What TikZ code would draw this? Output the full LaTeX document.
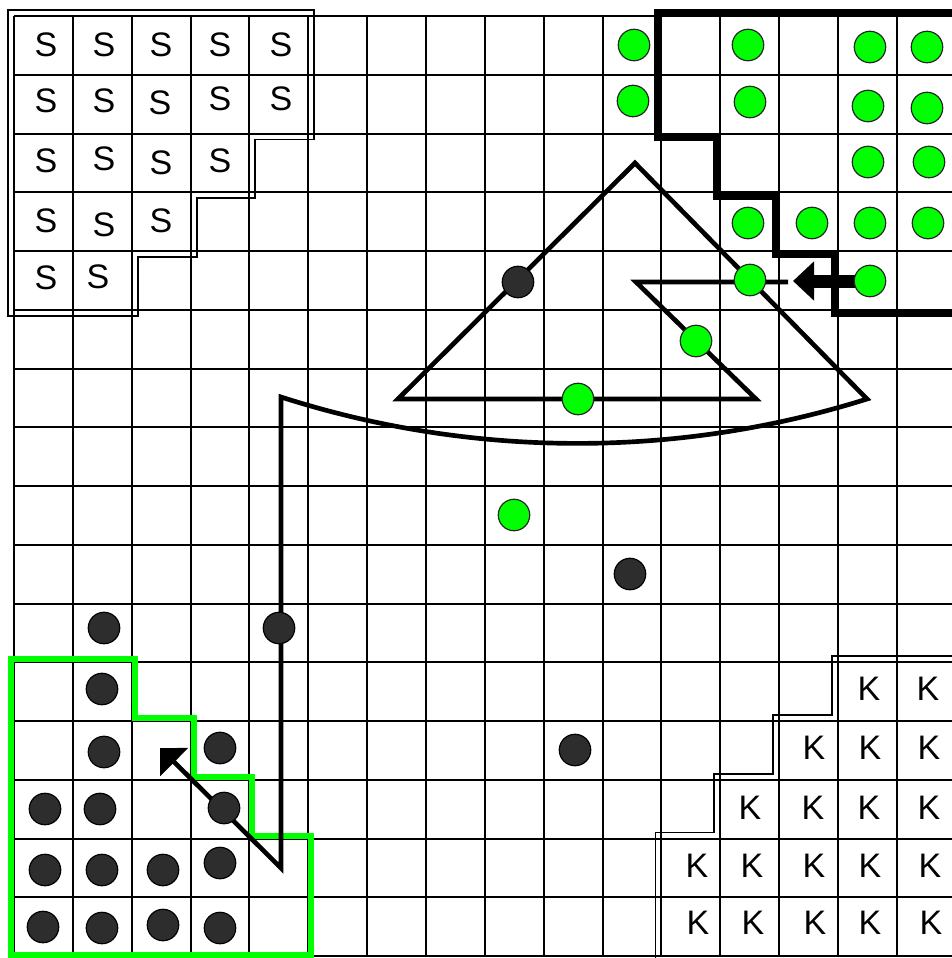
\documentclass[tikz,border=0pt]{standalone}
\usepackage{fontspec}
\setmainfont{Liberation Sans}
\usetikzlibrary{arrows.meta}
\definecolor{dotgreen}{RGB}{0,255,0}
\definecolor{dotdark}{RGB}{45,45,45}
\begin{document}
\begin{tikzpicture}[x=0.75pt,y=-0.75pt,
  gridline/.style={line width=1.5pt, black},
  thinoutline/.style={line width=1.4pt, black, line join=miter},
  boldoutline/.style={line width=5.5pt, black, line join=miter},
  greenoutline/.style={line width=4.5pt, dotgreen, line join=miter},
  route/.style={line width=3.5pt, black, line join=miter},
  bigshaft/.style={line width=9.75pt, black},
  gdot/.style={circle, fill=dotgreen, draw=black!85, line width=0.9pt, minimum size=23.6pt, inner sep=0pt},
  ddot/.style={circle, fill=dotdark, draw=black, line width=0.9pt, minimum size=23.6pt, inner sep=0pt},
  letter/.style={inner sep=0pt, font=\fontsize{25.5}{30}\selectfont}]
\useasboundingbox (0,0) rectangle (951,958);
\fill[white] (0,0) rectangle (951,958);
% grid
\foreach \k in {0,...,16} {
  \draw[gridline] ({14+58.86*\k},16) -- ({14+58.86*\k},956);
  \draw[gridline] (14,{16+58.75*\k}) -- (955.76,{16+58.75*\k});
}
% S region outline
\draw[thinoutline] (8,10) -- (314.3,10) -- (314.3,139.5) -- (255.4,139.5) -- (255.4,198.25) -- (196.6,198.25) -- (196.6,257) -- (137.7,257) -- (137.7,315.75) -- (8,315.75) -- cycle;
% K region outline
\draw[thinoutline] (960,656.25) -- (832,656.25) -- (832,715) -- (773.2,715) -- (773.2,773.75) -- (714.3,773.75) -- (714.3,832.5) -- (655.5,832.5) -- (655.5,962);
% green region outline
\draw[greenoutline] (11,659.25) -- (134.7,659.25) -- (134.7,718) -- (193.6,718) -- (193.6,776.75) -- (252.4,776.75) -- (252.4,835.5) -- (311.3,835.5) -- (311.3,955) -- (11,955) -- cycle;
% bold region outline
\draw[boldoutline] (960,12.3) -- (657.8,12.3) -- (657.8,137.2) -- (716.6,137.2) -- (716.6,195.95) -- (775.5,195.95) -- (775.5,254.7) -- (834.3,254.7) -- (834.3,313.45) -- (960,313.45);
% route
\coordinate (a0) at (788,282);
\coordinate (a1) at (636,282);
\coordinate (a2) at (756,399);
\coordinate (a3) at (398,399);
\coordinate (a4) at (635,163);
\coordinate (a5) at (867,399);
\coordinate (a6) at (281,397);
\coordinate (a7) at (281,868);
\coordinate (a8) at (160,748);
\draw[route, -{Triangle[length=15pt,width=29pt]}] (a0) -- (a1) -- (a2) -- (a3) -- (a4) -- (a5) .. controls (676,459) and (471,458) .. (a6) -- (a7) -- (a8);
% big arrow
\coordinate (gs) at (870,281);
\coordinate (t1) at (793,281);
\draw[bigshaft, -{Triangle[length=15.75pt,width=28.5pt]}] (gs) -- (t1);
% green dots
\foreach \x/\y [count=\i] in {634/45, 633/101, 748/45, 750/102, 870/47, 927/47, 868/106, 927/108, 868/162, 929/162, 748/223, 812/223, 870/223, 928/223, 750/280, 696/341, 578/399, 514/515}
  \node[gdot] (g\i) at (\x,\y) {};
\node[gdot] (gstart) at (gs) {};
% dark dots
\foreach \x/\y [count=\i] in {518/282, 630/574, 279/628, 575/750, 104/628, 102/689, 104/752, 220/748, 45/809, 100/809, 224/808, 45/870, 102/870, 163/870, 220/863, 43/927, 102/928, 163/925, 220/928}
  \node[ddot] (d\i) at (\x,\y) {};
% S letters
\foreach \x/\y [count=\i] in {46/45, 104/45, 161/45, 220/45, 281/45, 46/101, 104/101, 160/103, 220/99, 281/99, 46/161, 104/159, 161/163, 220/161, 46/221, 104/225, 161/221, 46/278, 98/277}
  \node[letter] (s\i) at (\x,\y) {S};
% K letters
\foreach \x/\y [count=\i] in {869/689, 928/689, 814/748, 870/748, 929/748, 750/808, 813/808, 869/808, 929/808, 697/866, 752/866, 814/866, 870/866, 930/866, 698/923, 753/923, 815/923, 870/923, 931/923}
  \node[letter] (k\i) at (\x,\y) {K};
\end{tikzpicture}
\end{document}
